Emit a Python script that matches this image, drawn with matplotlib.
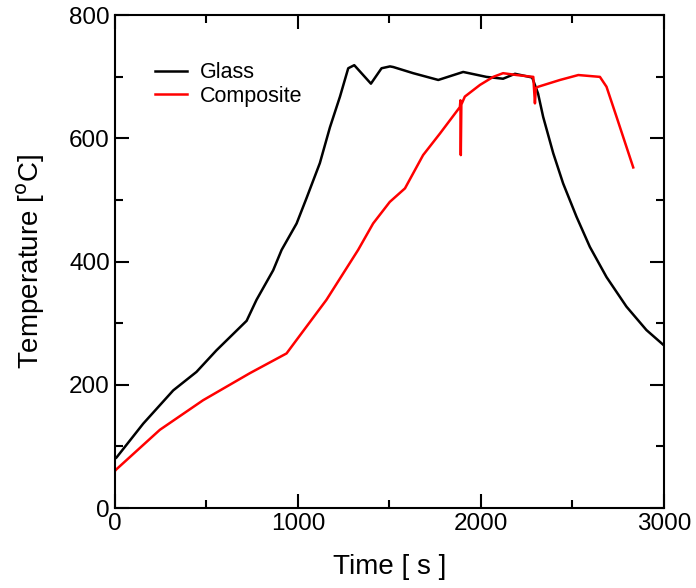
import matplotlib
matplotlib.use("Agg")
import matplotlib.pyplot as plt
from matplotlib.ticker import MultipleLocator

plt.rcParams['font.family'] = ['Liberation Sans', 'DejaVu Sans']

glass_t = [0, 9, 155, 319, 446, 555, 720, 774, 865, 911, 993, 1047, 1120, 1175, 1230,
           1275, 1308, 1399, 1457, 1503, 1521, 1630, 1767, 1903, 2030, 2121, 2186, 2280,
           2312, 2340, 2395, 2449, 2522, 2595, 2686, 2795, 2904, 3000]
glass_T = [80, 82, 137, 191, 221, 256, 304, 338, 386, 419, 462, 503, 560, 618, 668,
           714, 719, 689, 714, 717, 716, 706, 695, 708, 700, 697, 705, 699,
           673, 635, 576, 527, 473, 424, 375, 327, 289, 264]

comp_t = [0, 9, 246, 482, 738, 938, 993, 1156, 1329, 1411, 1502, 1585, 1684, 1776, 1885,
          1888, 1890, 1893, 1912, 1995, 2067, 2121, 2195, 2286, 2295, 2300, 2313, 2432,
          2532, 2650, 2686, 2741, 2832]
comp_T = [60, 63, 127, 175, 219, 251, 273, 338, 419, 462, 497, 519, 573, 608, 651,
          662, 573, 655, 668, 687, 700, 706, 703, 700, 657, 682, 684, 695,
          703, 700, 684, 635, 553]

fig = plt.figure(figsize=(6.96, 5.88), dpi=100)
ax = fig.add_axes([0.165, 0.136, 0.789, 0.838])

ax.plot(glass_t, glass_T, color='black', lw=1.8, label='Glass')
ax.plot(comp_t, comp_T, color='#ff0000', lw=1.8, label='Composite')

ax.set_xlim(0, 3000)
ax.set_ylim(0, 800)
ax.xaxis.set_major_locator(MultipleLocator(1000))
ax.xaxis.set_minor_locator(MultipleLocator(500))
ax.yaxis.set_major_locator(MultipleLocator(200))
ax.yaxis.set_minor_locator(MultipleLocator(100))
ax.tick_params(which='both', direction='in', top=True, right=True, width=1.5,
               labelsize=17.5)
ax.tick_params(which='major', length=10)
ax.tick_params(which='minor', length=6)
for s in ax.spines.values():
    s.set_linewidth(1.5)

ax.set_xlabel('Time [ s ]', fontsize=20, labelpad=14)
ax.set_ylabel('Temperature [$^{\\rm o}$C]', fontsize=20, labelpad=16)

ax.legend(loc='upper left', bbox_to_anchor=(0.045, 0.935), frameon=False, fontsize=15.5,
          handlelength=1.5, handletextpad=0.6, labelspacing=0.12, borderpad=0.2)

fig.savefig('out.png', dpi=100)
